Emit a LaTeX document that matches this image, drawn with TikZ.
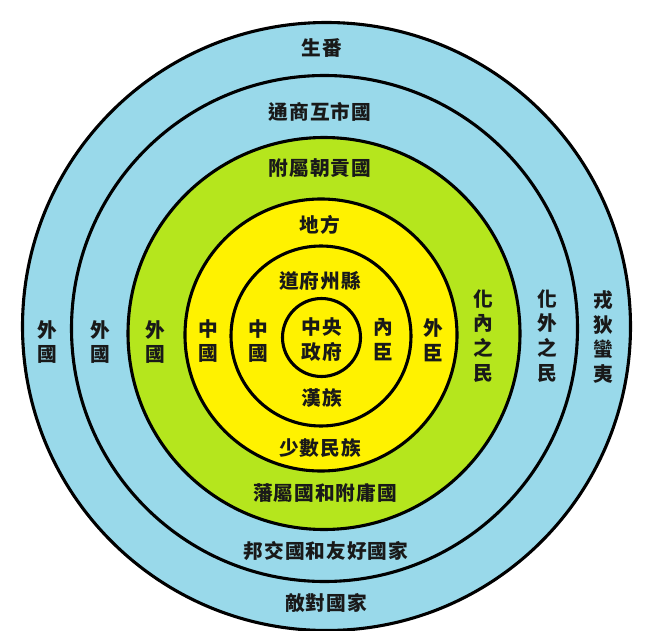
\documentclass[tikz,border=0pt]{standalone}
\usepackage{fontspec}
\newfontfamily\cjkfont[LetterSpace=5]{Noto Sans CJK TC}
\definecolor{ringblue}{HTML}{99D9EA}
\definecolor{ringgreen}{HTML}{B5E61D}
\definecolor{ringyellow}{HTML}{FFF200}
\tikzset{
    ring/.style={draw=black, line width=2.2pt},
    lbl/.style={font=\cjkfont\bfseries\fontsize{14}{17.7}\selectfont,
        inner sep=0pt, align=center, text=black!90},
}
\begin{document}
\begin{tikzpicture}[x=0.025cm, y=-0.025cm]
    \useasboundingbox (0,0) rectangle (660,631);
    % rings, from the outside in
    \draw[ring, fill=ringblue] (326.5,326.5) circle (304);
    \draw[ring] (324.5,328.5) circle (253);
    \draw[ring, fill=ringgreen] (324,333.5) circle (196);
    \draw[ring, fill=ringyellow] (321,335) circle (136);
    \draw[ring] (321,336) circle (90);
    \draw[ring] (321.5,337.5) circle (39);
    % labels, top to bottom
    \node[lbl] (shengfan) at (322,48) {生番};
    \node[lbl] (hushi) at (320,112) {通商互市國};
    \node[lbl] (chaogong) at (320,168) {附屬朝貢國};
    \node[lbl] (difang) at (320,225) {地方};
    \node[lbl] (daofu) at (320,281) {道府州縣};
    \node[lbl] (zhongyang) at (322,339.5) {中央\\政府};
    \node[lbl] (hanzu) at (322,398) {漢族};
    \node[lbl] (shaoshu) at (320,448) {少數民族};
    \node[lbl] (fanshu) at (325,493) {藩屬國和附庸國};
    \node[lbl] (bangjiao) at (326,551) {邦交國和友好國家};
    \node[lbl] (didui) at (326,603) {敵對國家};
    % left side
    \node[lbl] (waiguoa) at (47,342) {外\\國};
    \node[lbl] (waiguob) at (100,342) {外\\國};
    \node[lbl] (waiguoc) at (155,342) {外\\國};
    \node[lbl] (zhongguoa) at (208,341) {中\\國};
    \node[lbl] (zhongguob) at (258,341) {中\\國};
    % right side
    \node[lbl] (neichen) at (383,340) {內\\臣};
    \node[lbl] (waichen) at (433,340) {外\\臣};
    \node[lbl] (huanei) at (483,336) {化\\內\\之\\民};
    \node[lbl] (huawai) at (547,336) {化\\外\\之\\民};
    \node[lbl] (rongdi) at (603,337) {戎\\狄\\蠻\\夷};
\end{tikzpicture}
\end{document}
